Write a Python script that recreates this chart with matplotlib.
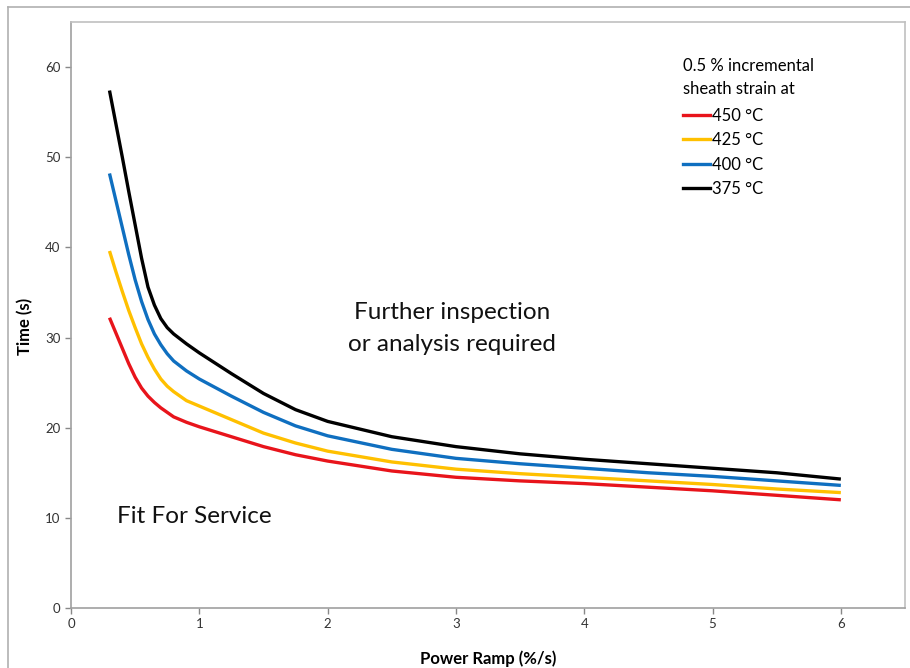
import numpy as np
import matplotlib.pyplot as plt
from matplotlib.lines import Line2D

# power ramp (%/s) and time (s)
ramp = [0.3, 0.35, 0.4, 0.45, 0.5, 0.55, 0.6, 0.65, 0.7, 0.75, 0.8, 0.9, 1.0,
        1.25, 1.5, 1.75, 2.0, 2.5, 3.0, 3.5, 4.0, 4.5, 5.0, 5.5, 6.0]
t450 = [32.2, 30.5, 28.8, 27.1, 25.6, 24.4, 23.5, 22.8, 22.2, 21.7, 21.2, 20.6, 20.1,
        19.0, 17.9, 17.0, 16.3, 15.2, 14.5, 14.1, 13.8, 13.4, 13.0, 12.5, 12.0]
t425 = [39.6, 37.3, 35.1, 33.0, 31.1, 29.3, 27.8, 26.5, 25.4, 24.6, 24.0, 23.0, 22.4,
        20.9, 19.4, 18.3, 17.4, 16.2, 15.4, 14.9, 14.5, 14.1, 13.7, 13.2, 12.8]
t400 = [48.2, 45.2, 42.2, 39.2, 36.4, 34.0, 32.0, 30.4, 29.2, 28.2, 27.4, 26.3, 25.4,
        23.5, 21.7, 20.2, 19.1, 17.6, 16.6, 16.0, 15.5, 15.0, 14.6, 14.1, 13.6]
t375 = [57.4, 53.7, 50.0, 46.2, 42.5, 38.8, 35.6, 33.6, 32.1, 31.1, 30.4, 29.3, 28.3,
        26.0, 23.8, 22.0, 20.7, 19.0, 17.9, 17.1, 16.5, 16.0, 15.5, 15.0, 14.3]

labels = ['450 °C', '425 °C', '400 °C', '375 °C']
colors = ['#e8141b', '#ffc000', '#0f6fc0', '#000000']
series = [t450, t425, t400, t375]

plt.rcParams['font.family'] = ['Lato', 'DejaVu Sans']

fig = plt.figure(figsize=(9.1, 6.68), dpi=100)
ax = fig.add_axes([71/910, 60/668, (905-71)/910, (607-21)/668])

for ys, c, lab in zip(series, colors, labels):
    ax.plot(ramp, ys, color=c, lw=2.4, label=lab, solid_capstyle='butt',
            solid_joinstyle='round')

ax.set_xlim(0, 6.5)
ax.set_ylim(0, 65)
ax.set_xticks(range(0, 7))
ax.set_yticks(range(0, 61, 10))
ax.tick_params(colors='#888888', labelcolor='#333333', labelsize=9.5,
               direction='out', length=4, width=1)
for s in ax.spines.values():
    s.set_color('#c0c0c0')
    s.set_linewidth(1.2)
ax.spines['left'].set_color('#a0a0a0')
ax.spines['bottom'].set_color('#a0a0a0')

ax.set_xlabel('Power Ramp (%/s)', fontsize=12, fontweight='bold')
ax.set_ylabel('Time (s)', fontsize=12, fontweight='bold')
ax.xaxis.set_label_coords((488-71)/834, -(649-607)/586)
ax.yaxis.set_label_coords(-(71-33)/834, (607-325)/586)

ax.text(2.97, 31.0, 'Further inspection\nor analysis required', fontsize=17.5,
        ha='center', va='center', linespacing=1.6, color='#111111')
ax.text(0.36, 10.2, 'Fit For Service', fontsize=17.5, ha='left', va='center',
        color='#111111')

# legend with a two-line title
handles = [Line2D([0], [0], color=c, lw=2.4) for c in colors]
leg = ax.legend(handles, labels, loc='upper left',
                bbox_to_anchor=((675-71)/834, (607-49)/586),
                frameon=False, fontsize=12, handlelength=1.6,
                handletextpad=0.1, labelspacing=0.5, borderpad=0,
                title='0.5 % incremental\nsheath strain at',
                title_fontsize=12)
leg._legend_box.align = 'left'
leg.get_title().set_linespacing(1.5)
leg._legend_box.sep = 8

# outer chart border (left and top only visible)
fig.add_artist(Line2D([8/910, 8/910], [0, 1 - 7/668], color='#b0b0b0', lw=1.2))
fig.add_artist(Line2D([8/910, 1], [1 - 7/668, 1 - 7/668], color='#b0b0b0', lw=1.2))

fig.savefig('out.png', dpi=100)
